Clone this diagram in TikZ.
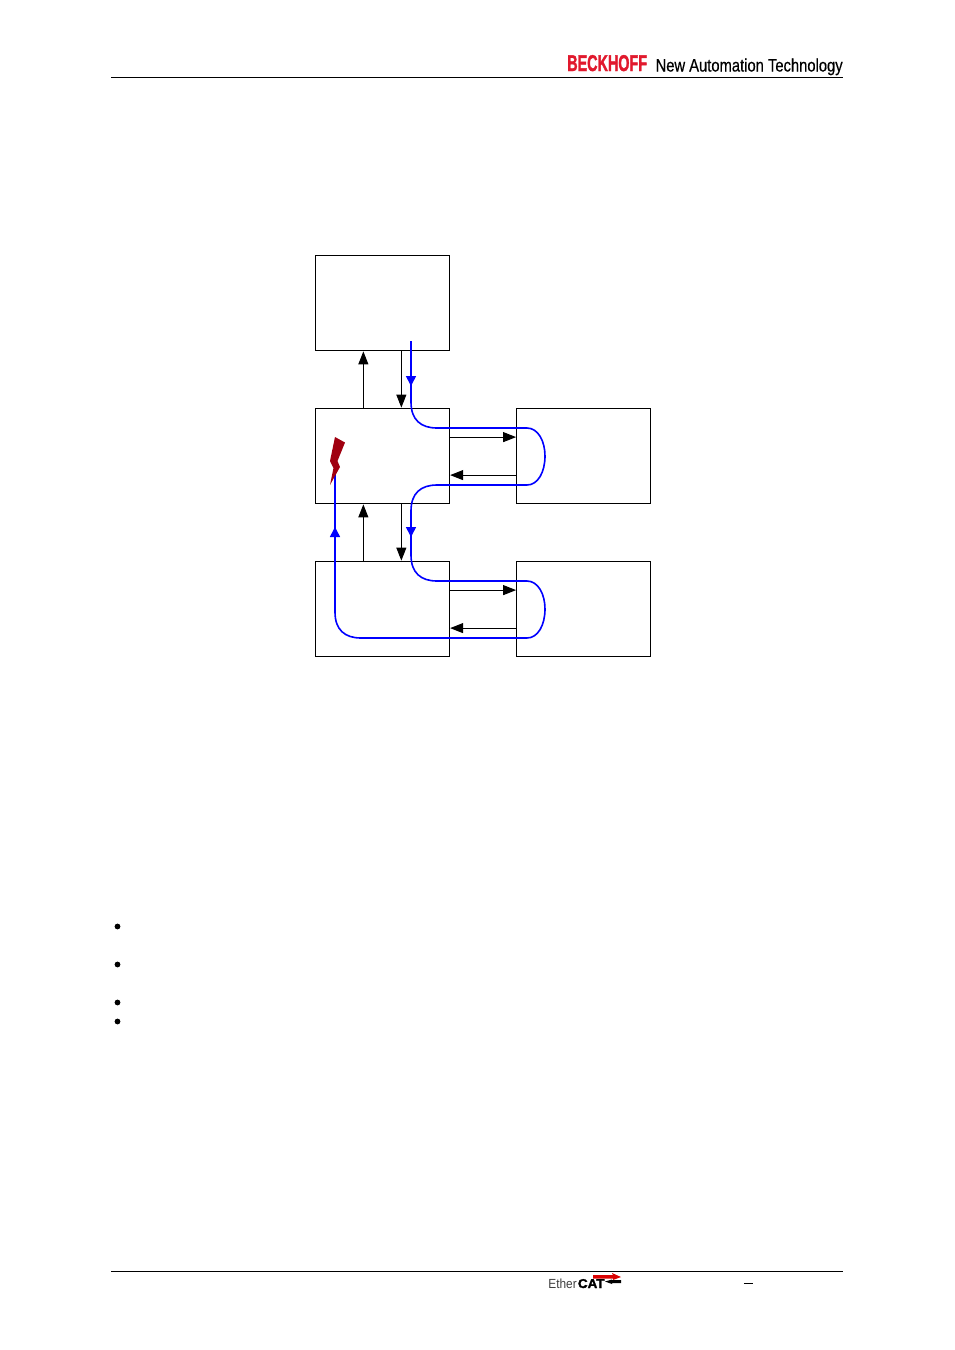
\documentclass[tikz,border=0pt]{standalone}
\usepackage{fontspec}
\setmainfont[BoldFeatures={FakeBold=2}]{Liberation Sans}
\newfontfamily\slogfont[FakeBold=0.5]{Liberation Sans}
\usetikzlibrary{calc}
\usetikzlibrary{arrows.meta}
\definecolor{beckred}{RGB}{225,25,45}
\definecolor{boltred}{RGB}{160,0,16}
\tikzset{
    box/.style={draw=black, line width=0.5pt, fill=none, inner sep=0pt, minimum width=66.9pt, minimum height=47.9pt},
    link/.style={draw=black, line width=0.5pt, -{Triangle[length=6.5pt,width=5pt]}},
    ring/.style={draw=blue, line width=0.8pt},
    ringtip/.style={ring, -{Triangle[length=5pt,width=5pt]}},
    rule/.style={draw=black, line width=0.5pt},
    dotmark/.style={circle, fill=black, inner sep=0pt, minimum size=2.9pt}
}

\begin{document}
\begin{tikzpicture}[x=0.5pt, y=-0.5pt]
            \useasboundingbox (0, 0) rectangle (954, 1350);
            \fill[white] (0, 0) rectangle (954, 1350);

            % page furniture
            \coordinate (headL) at (111, 77.5);
            \coordinate (headR) at (843, 77.5);
            \coordinate (footL) at (111, 1271.5);
            \coordinate (footR) at (843, 1271.5);
            \draw[rule] (headL) -- (headR);
            \draw[rule] (footL) -- (footR);
            \node[anchor=base west, inner sep=0pt, xscale=0.63, transform shape, text=beckred, font=\bfseries\fontsize{11.4}{12}\selectfont] (brand) at (567, 71) {BECKHOFF};
            \node[anchor=base east, inner sep=0pt, xscale=0.82, transform shape, font=\slogfont\fontsize{9}{10}\selectfont] (slogan) at (843, 71.5) {New Automation Technology};
            \node[anchor=base west, inner sep=0pt, xscale=0.9, transform shape, text=black!75, font=\fontsize{6.6}{8}\selectfont] (ether) at (548, 1288) {Ether};
            \node[anchor=base west, inner sep=0pt, xscale=1.05, transform shape, font=\bfseries\fontsize{6.4}{8}\selectfont] (cat) at (577.5, 1288) {CAT};
            \node[anchor=center, inner sep=0pt, font=\fontsize{7}{8}\selectfont] (dash) at (748.5, 1284) {\rule[0.5pt]{4.6pt}{0.5pt}};
            % logo arrows
            \fill[red!85!black] (593, 1275) -- (613, 1275) -- (612, 1273) -- (621, 1277) -- (613, 1280) -- (613, 1278.5) -- (593, 1278.5) -- cycle;
            \fill[black] (621, 1280) -- (612, 1280) -- (612, 1279.5) -- (605, 1281.5) -- (612, 1284) -- (612, 1283) -- (621, 1283) -- cycle;

            % boxes
            \node[box] (top) at (382.75, 303) {};
            \node[box] (mid) at (382.75, 456) {};
            \node[box] (midR) at (583.5, 456) {};
            \node[box] (low) at (382.75, 609) {};
            \node[box] (lowR) at (583.5, 609) {};

            % bus lines
            \draw[link] ($(mid.north west)+(48, 0)$) -- ($(top.south west)+(48, 0)$);
            \draw[link] ($(top.south west)+(86, 0)$) -- ($(mid.north west)+(86, 0)$);
            \draw[link] ($(low.north west)+(48, 0)$) -- ($(mid.south west)+(48, 0)$);
            \draw[link] ($(mid.south west)+(86, 0)$) -- ($(low.north west)+(86, 0)$);
            \draw[link] ($(mid.north east)+(0, 29.5)$) -- ($(midR.north west)+(0, 29.5)$);
            \draw[link] ($(midR.north west)+(0, 67.5)$) -- ($(mid.north east)+(0, 67.5)$);
            \draw[link] ($(low.north east)+(0, 29.5)$) -- ($(lowR.north west)+(0, 29.5)$);
            \draw[link] ($(lowR.north west)+(0, 67.5)$) -- ($(low.north east)+(0, 67.5)$);

            % ring path
            \coordinate (start) at (411, 341);
            \coordinate (tipA) at (411, 386);
            \coordinate (tipB) at (411, 537);
            \coordinate (tipC) at (335, 527);
            \coordinate (stop) at (335, 470);
            \draw[ring] (start) -- (411, 402)
                .. controls (411, 420) and (421, 428) .. (437, 428) -- (527, 428)
                .. controls (538, 428) and (545, 441) .. (545, 456)
                .. controls (545, 472) and (538, 485) .. (527, 485) -- (437, 485)
                .. controls (421, 485) and (411, 493) .. (411, 511) -- (411, 555)
                .. controls (411, 573) and (421, 581) .. (437, 581) -- (527, 581)
                .. controls (538, 581) and (545, 594) .. (545, 609)
                .. controls (545, 625) and (538, 638) .. (527, 638) -- (361, 638)
                .. controls (345, 638) and (335, 630) .. (335, 612) -- (stop);
            \draw[ringtip] (start) -- (tipA);
            \draw[ringtip] (411, 520) -- (tipB);
            \draw[ringtip] (335, 545) -- (tipC);

            % fault
            \fill[boltred] (335, 437) -- (345, 442.5) -- (337.5, 461) -- (340, 467) -- (330, 485) -- (333.5, 468) -- (330, 461) -- cycle;

            % list marks
            \node[dotmark] (itemA) at (117.5, 926.5) {};
            \node[dotmark] (itemB) at (117.5, 964.5) {};
            \node[dotmark] (itemC) at (117.5, 1002.5) {};
            \node[dotmark] (itemD) at (117.5, 1021.5) {};
        \end{tikzpicture}
\end{document}
